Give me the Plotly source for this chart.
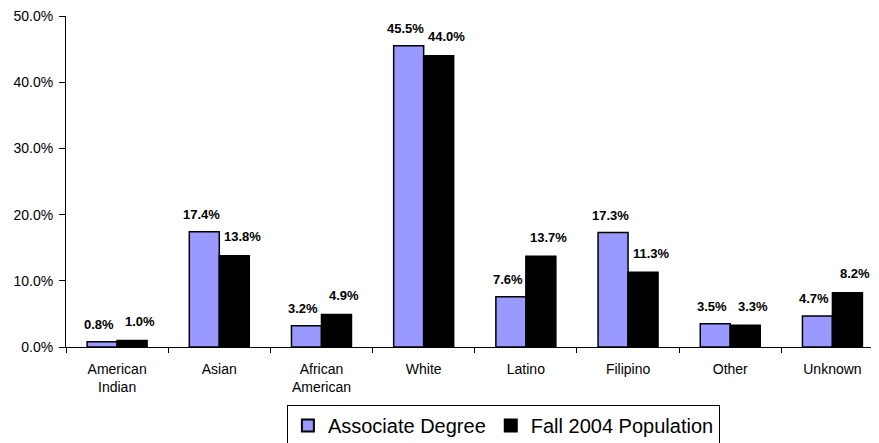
import plotly.graph_objects as go

categories = ["American<br>Indian", "Asian", "African<br>American", "White", "Latino", "Filipino", "Other", "Unknown"]
associate_degree = [0.8, 17.4, 3.2, 45.5, 7.6, 17.3, 3.5, 4.7]
fall_2004 = [1.0, 13.8, 4.9, 44.0, 13.7, 11.3, 3.3, 8.2]
y_ticks = [0, 10, 20, 30, 40, 50]
y_tick_text = ["0.0%", "10.0%", "20.0%", "30.0%", "40.0%", "50.0%"]

label_font = dict(family="Arial", size=13, color="black", weight="bold")

fig = go.Figure()
fig.add_trace(go.Bar(
    name="Associate Degree", x=categories, y=associate_degree,
    marker=dict(color="#9999FF", line=dict(color="black", width=1.5)),
))
fig.add_trace(go.Bar(
    name="Fall 2004 Population", x=categories, y=fall_2004,
    marker=dict(color="black", line=dict(color="black", width=1.5)),
))

# data labels (Excel-style placement above each bar)
for series, ys in (("a", associate_degree), ("f", fall_2004)):
    for cat, val in zip(categories, ys):
        fig.add_annotation(
            x=cat, y=val, xref="x", yref="y",
            text=f"{val:.1f}%", showarrow=False,
            font=label_font, yanchor="middle", xanchor="center",
            xshift=-18 if series == "a" else 23,
            yshift=17 if series == "a" else 19,
        )

# page body adds ~8px offset; figure sized/margined to compensate
fig.update_layout(
    width=871, height=435,
    margin=dict(l=58, r=6, t=8, b=96, autoexpand=False),
    paper_bgcolor="white", plot_bgcolor="white",
    barmode="group", bargap=0.413, bargroupgap=0,
    font=dict(family="Arial", size=14, color="black"),
    showlegend=True,
    legend=dict(
        orientation="h", x=0.542, xanchor="center", y=-0.175, yanchor="top",
        font=dict(family="Arial", size=20, color="black"),
        bordercolor="black", borderwidth=1, bgcolor="white",
        itemsizing="constant", traceorder="normal",
    ),
    xaxis=dict(
        range=[-0.5, 7.397], automargin=False,
        showline=True, linecolor="black", linewidth=1,
        ticks="outside", tickson="boundaries", ticklen=5, tickcolor="black",
        showgrid=False, tickfont=dict(size=14), ticklabelstandoff=9,
        ticklabeloverflow="allow",
    ),
    yaxis=dict(
        range=[0, 50], tickvals=y_ticks, ticktext=y_tick_text, automargin=False,
        showline=True, linecolor="black", linewidth=1,
        ticks="outside", ticklen=6, tickcolor="black", ticklabelstandoff=3,
        showgrid=False, zeroline=False, tickfont=dict(size=14),
        ticklabeloverflow="allow",
    ),
)

fig.write_html("out.html")
